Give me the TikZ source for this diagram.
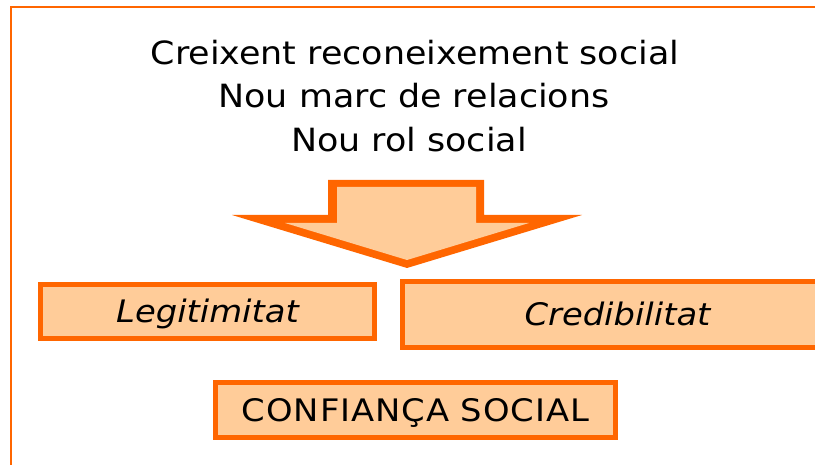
\documentclass[tikz,border=0pt]{standalone}
\usepackage{fontspec}
\setmainfont{DejaVu Sans}[FakeStretch=1.09]
\definecolor{orng}{HTML}{FF6600}
\definecolor{peach}{HTML}{FFCC99}
\begin{document}
\begin{tikzpicture}[x=1pt,y=-1pt,
  txt/.style={font=\fontsize{32}{38}\selectfont, inner sep=0pt},
  obox/.style={draw=orng, fill=peach, line width=5pt, inner sep=0pt,
    font=\fontsize{31}{37}\selectfont, text height=22pt, text depth=0pt}]
\useasboundingbox (0,0) rectangle (815,465);
\fill[white] (0,0) rectangle (815,465);
% frame
\draw[orng, line width=2.2pt] (11,466) -- (11,7) -- (816,7);
% title lines
\node[txt, anchor=base] (t1) at (415,65) {Creixent reconeixement social};
\node[txt, anchor=base] (t2) at (414,108) {Nou marc de relacions};
\node[txt, anchor=base] (t3) at (409,152) {Nou rol social};
% big arrow
\fill[orng] (328,180) -- (484,180) -- (484,215) -- (582,215) -- (407,268)
  -- (232,215) -- (328,215) -- cycle;
\fill[peach] (337,187) -- (476,187) -- (476,223) -- (529,223) -- (407,260)
  -- (285,223) -- (337,223) -- cycle;
% boxes
\node[obox, minimum width=334pt, minimum height=54pt] (leg) at (207.5,311.5) {\itshape Legitimitat};
\node[obox, minimum width=430pt, minimum height=66pt] (cred) at (617.5,314.5) {\itshape Credibilitat};
\node[obox, minimum width=400pt, minimum height=55pt] (conf) at (415.5,410) {\addfontfeature{LetterSpace=3}CONFIANÇA SOCIAL};
\end{tikzpicture}
\end{document}
